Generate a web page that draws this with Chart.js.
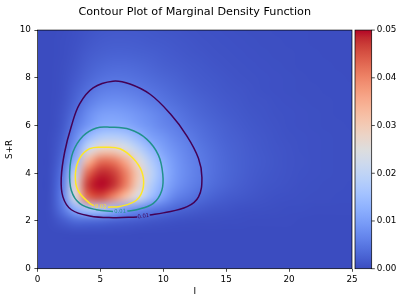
<!DOCTYPE html>
<html>
<head>
<meta charset="UTF-8">
<title>Contour Plot of Marginal Density Function</title>
<script src="https://cdn.jsdelivr.net/npm/chart.js"></script>
<style>
  body { margin: 0; background: #fff; }
  canvas { display: block; }
</style>
</head>
<body>
<canvas id="chart" width="405" height="304"></canvas>
<script>
const chartTitle = 'Contour Plot of Marginal Density Function';

// grid nodes of the density surface (I on x, S+R on y)
const xNodes = [0,1,2,3,4,5,6,7,8,9,10,11,12,13,14,15,16,17,18,19,20,21,22,23,24,25];
const yNodes = [0,0.5,1,1.5,2,2.5,3,3.5,4,4.5,5,5.5,6,6.5,7,7.5,8,8.5,9,9.5,10];

// density, one row per y node (bottom row first)
const density = [
  [0,0,0,0,0,0,0,0,0,0,0,0,0,0,0,0,0,0,0,0,0,0,0,0,0,0],
  [0,0,0,0,0,0,0,0,0,0,0,0,0,0,0,0,0,0,0,0,0,0,0,0,0,0],
  [0,0,0,0,0,0,0,0,0,0,0,0,0,0,0,0,0,0,0,0,0,0,0,0,0,0],
  [0,0,0,0.0001,0.0001,0.0001,0.0001,0.0001,0,0,0,0,0,0,0,0,0,0,0,0,0,0,0,0,0,0],
  [0,0.0001,0.0017,0.0035,0.0035,0.0032,0.0026,0.0021,0.0017,0.0012,0.0009,0.0006,0.0004,0.0003,0.0003,0.0002,0.0002,0.0001,0.0001,0.0001,0.0001,0,0,0,0,0],
  [0,0.0003,0.0048,0.0125,0.0170,0.0170,0.0138,0.0100,0.0077,0.0057,0.0043,0.0030,0.0022,0.0016,0.0011,0.0009,0.0006,0.0005,0.0004,0.0003,0.0002,0.0002,0.0001,0.0001,0.0001,0.0001],
  [0,0.0003,0.0061,0.0244,0.0430,0.0456,0.0400,0.0320,0.0235,0.0150,0.0100,0.0063,0.0048,0.0035,0.0025,0.0018,0.0014,0.0011,0.0008,0.0006,0.0005,0.0004,0.0003,0.0003,0.0002,0.0002],
  [0,0.0002,0.0057,0.0255,0.0471,0.0500,0.0481,0.0407,0.0285,0.0183,0.0122,0.0086,0.0064,0.0049,0.0036,0.0027,0.0020,0.0015,0.0011,0.0009,0.0007,0.0005,0.0004,0.0003,0.0003,0.0002],
  [0,0.0002,0.0048,0.0203,0.0430,0.0485,0.0472,0.0408,0.0299,0.0200,0.0133,0.0093,0.0070,0.0054,0.0040,0.0030,0.0023,0.0017,0.0013,0.0010,0.0008,0.0006,0.0005,0.0004,0.0003,0.0003],
  [0,0.0001,0.0036,0.0138,0.0334,0.0422,0.0416,0.0357,0.0259,0.0179,0.0124,0.0090,0.0068,0.0053,0.0040,0.0030,0.0023,0.0018,0.0014,0.0011,0.0008,0.0007,0.0005,0.0004,0.0003,0.0003],
  [0,0.0001,0.0026,0.0098,0.0215,0.0280,0.0285,0.0250,0.0195,0.0141,0.0103,0.0081,0.0063,0.0049,0.0037,0.0028,0.0022,0.0017,0.0013,0.0010,0.0008,0.0006,0.0005,0.0004,0.0003,0.0003],
  [0,0.0001,0.0019,0.0073,0.0140,0.0180,0.0188,0.0175,0.0140,0.0105,0.0087,0.0068,0.0055,0.0042,0.0033,0.0025,0.0020,0.0015,0.0012,0.0009,0.0007,0.0006,0.0005,0.0004,0.0003,0.0003],
  [0,0,0.0013,0.0054,0.0090,0.0118,0.0122,0.0116,0.0100,0.0084,0.0068,0.0057,0.0045,0.0036,0.0028,0.0022,0.0017,0.0013,0.0010,0.0008,0.0006,0.0005,0.0004,0.0003,0.0003,0.0002],
  [0,0,0.0010,0.0039,0.0075,0.0098,0.0102,0.0097,0.0086,0.0074,0.0060,0.0048,0.0037,0.0029,0.0023,0.0018,0.0014,0.0011,0.0009,0.0007,0.0006,0.0005,0.0004,0.0003,0.0002,0.0002],
  [0,0,0.0007,0.0028,0.0055,0.0074,0.0080,0.0077,0.0068,0.0057,0.0047,0.0038,0.0030,0.0024,0.0019,0.0015,0.0012,0.0009,0.0008,0.0006,0.0005,0.0004,0.0003,0.0003,0.0002,0.0002],
  [0,0,0.0005,0.0021,0.0040,0.0055,0.0060,0.0058,0.0052,0.0045,0.0037,0.0030,0.0024,0.0019,0.0016,0.0012,0.0010,0.0008,0.0006,0.0005,0.0004,0.0003,0.0003,0.0002,0.0002,0.0002],
  [0,0,0.0004,0.0015,0.0029,0.0040,0.0045,0.0044,0.0040,0.0035,0.0029,0.0024,0.0019,0.0016,0.0013,0.0010,0.0008,0.0007,0.0006,0.0005,0.0004,0.0003,0.0002,0.0002,0.0002,0.0001],
  [0,0,0.0003,0.0011,0.0022,0.0030,0.0034,0.0034,0.0031,0.0027,0.0022,0.0019,0.0016,0.0013,0.0010,0.0008,0.0007,0.0006,0.0005,0.0004,0.0003,0.0002,0.0002,0.0002,0.0001,0.0001],
  [0,0,0.0002,0.0008,0.0017,0.0022,0.0025,0.0025,0.0023,0.0021,0.0018,0.0015,0.0012,0.0010,0.0008,0.0007,0.0006,0.0005,0.0004,0.0003,0.0003,0.0002,0.0002,0.0001,0.0001,0.0001],
  [0,0,0.0002,0.0006,0.0012,0.0017,0.0019,0.0019,0.0018,0.0016,0.0014,0.0012,0.0010,0.0008,0.0007,0.0006,0.0005,0.0004,0.0003,0.0003,0.0002,0.0002,0.0001,0.0001,0.0001,0.0001],
  [0,0,0.0001,0.0005,0.0009,0.0013,0.0015,0.0015,0.0014,0.0013,0.0011,0.0010,0.0008,0.0007,0.0006,0.0005,0.0004,0.0003,0.0003,0.0002,0.0002,0.0002,0.0001,0.0001,0.0001,0.0001]
];

// contour lines (open where the inline label sits)
const outerContour = [
  {x:8.92,y:2.25},{x:10.0,y:2.34},{x:11.9,y:2.6},{x:12.8,y:3.01},{x:13.07,y:3.82},{x:12.8,y:4.62},
  {x:11.88,y:5.56},{x:10.54,y:6.5},{x:8.95,y:7.31},{x:7.35,y:7.74},{x:6.0,y:7.86},{x:4.42,y:7.58},
  {x:3.35,y:6.91},{x:2.69,y:5.97},{x:2.16,y:4.89},{x:1.89,y:3.82},{x:2.02,y:3.01},{x:2.69,y:2.47},
  {x:4.15,y:2.21},{x:6.02,y:2.14},{x:7.93,y:2.17}
];
const middleContour = [
  {x:7.14,y:2.42},{x:7.88,y:2.47},{x:9.21,y:2.74},{x:9.88,y:3.28},{x:9.96,y:3.95},{x:9.61,y:4.76},
  {x:8.68,y:5.43},{x:7.35,y:5.83},{x:5.75,y:5.93},{x:4.69,y:5.9},{x:3.62,y:5.56},{x:2.82,y:4.89},
  {x:2.56,y:4.08},{x:2.69,y:3.28},{x:3.35,y:2.74},{x:4.69,y:2.47},{x:6.0,y:2.40}
];
const innerContour = [
  {x:5.6,y:2.58},{x:6.55,y:2.61},{x:7.88,y:2.88},{x:8.41,y:3.42},{x:8.28,y:4.08},{x:7.61,y:4.62},
  {x:6.55,y:5.03},{x:5.22,y:5.09},{x:4.15,y:5.03},{x:3.35,y:4.62},{x:3.01,y:3.95},{x:3.22,y:3.28},
  {x:4.15,y:2.74},{x:4.49,y:2.64}
];
const contourLabels = [
  {text:'0.02', x:5.03, y:2.60, angle:4, color:'#fde725'},
  {text:'0.01', x:6.57, y:2.40, angle:-2, color:'#21918c'},
  {text:'0.01', x:8.42, y:2.20, angle:-8, color:'#440154'}
];

const xTicks = [0,5,10,15,20,25];
const yTicks = [0,2,4,6,8,10];
const cbarTicks = [0,0.01,0.02,0.03,0.04,0.05];
const vmax = 0.05;

// matplotlib coolwarm, 33 evenly spaced stops
const coolwarmStops = [
  [59,76,192],[68,90,204],[77,104,215],[87,117,225],[98,130,234],[108,142,241],[119,154,247],
  [130,165,251],[141,176,254],[152,185,255],[163,194,255],[174,201,253],[184,208,249],[194,213,244],
  [204,217,238],[213,219,230],[221,221,221],[229,216,209],[236,211,197],[241,204,184],[245,196,172],
  [247,187,160],[247,177,148],[247,166,137],[244,154,123],[241,141,112],[236,127,99],[229,112,88],
  [222,96,77],[213,80,66],[203,62,56],[192,40,47],[180,4,38]
];

function coolwarm(t) {
  t = Math.min(1, Math.max(0, t));
  const p = t * (coolwarmStops.length - 1);
  const i = Math.min(Math.floor(p), coolwarmStops.length - 2);
  const f = p - i;
  const a = coolwarmStops[i], b = coolwarmStops[i + 1];
  return a.map((c, k) => Math.round(c + (b[k] - c) * f));
}

Chart.defaults.font.family = "'DejaVu Sans', sans-serif";
Chart.defaults.color = '#000';

const tickGrid = {
  drawOnChartArea: false,
  drawTicks: true,
  tickLength: 3.1,
  tickWidth: 0.7,
  tickColor: '#000'
};

const heatmapPlugin = {
  id: 'heatmap',
  beforeDatasetsDraw(chart) {
    const {ctx, chartArea, scales} = chart;
    const nx = xNodes.length, ny = yNodes.length;
    const off = document.createElement('canvas');
    off.width = nx;
    off.height = ny;
    const octx = off.getContext('2d');
    const img = octx.createImageData(nx, ny);
    for (let j = 0; j < ny; j++) {
      const row = density[ny - 1 - j];
      for (let i = 0; i < nx; i++) {
        const c = coolwarm(row[i] / vmax);
        const k = (j * nx + i) * 4;
        img.data[k] = c[0];
        img.data[k + 1] = c[1];
        img.data[k + 2] = c[2];
        img.data[k + 3] = 255;
      }
    }
    octx.putImageData(img, 0, 0);

    const x0 = scales.x.getPixelForValue(xNodes[0]);
    const x1 = scales.x.getPixelForValue(xNodes[nx - 1]);
    const yTop = scales.y.getPixelForValue(yNodes[ny - 1]);
    const yBot = scales.y.getPixelForValue(yNodes[0]);
    ctx.save();
    ctx.beginPath();
    ctx.rect(chartArea.left, chartArea.top, chartArea.width, chartArea.height);
    ctx.clip();
    ctx.imageSmoothingEnabled = true;
    ctx.imageSmoothingQuality = 'high';
    ctx.drawImage(off, 0.5, 0.5, nx - 1, ny - 1, x0, yTop, x1 - x0, yBot - yTop);
    ctx.restore();
  },
  afterDatasetsDraw(chart) {
    const {ctx, chartArea, scales} = chart;

    // inline contour labels
    ctx.save();
    ctx.font = "5.3px 'DejaVu Sans'";
    ctx.textAlign = 'center';
    ctx.textBaseline = 'middle';
    contourLabels.forEach(l => {
      ctx.save();
      ctx.translate(scales.x.getPixelForValue(l.x), scales.y.getPixelForValue(l.y));
      ctx.rotate(l.angle * Math.PI / 180);
      ctx.fillStyle = l.color;
      ctx.fillText(l.text, 0, 0);
      ctx.restore();
    });
    ctx.restore();

    // frame
    ctx.save();
    ctx.strokeStyle = '#000';
    ctx.lineWidth = 0.7;
    ctx.strokeRect(chartArea.left, chartArea.top, chartArea.width, chartArea.height);

    // colour bar
    const cb = scales.yc;
    const cbLeft = chartArea.right + 3;
    const cbRight = chartArea.right + 19.7;
    const cbTop = cb.getPixelForValue(vmax);
    const cbBot = cb.getPixelForValue(0);
    const grad = ctx.createLinearGradient(0, cbBot, 0, cbTop);
    coolwarmStops.forEach((c, i) => {
      grad.addColorStop(i / (coolwarmStops.length - 1), `rgb(${c[0]},${c[1]},${c[2]})`);
    });
    ctx.fillStyle = grad;
    ctx.fillRect(cbLeft, cbTop, cbRight - cbLeft, cbBot - cbTop);
    ctx.strokeRect(cbLeft, cbTop, cbRight - cbLeft, cbBot - cbTop);
    ctx.beginPath();
    cbarTicks.forEach(v => {
      const py = cb.getPixelForValue(v);
      ctx.moveTo(cbRight, py);
      ctx.lineTo(cbRight + 3.1, py);
    });
    ctx.stroke();

    // title, centred over the plot area like matplotlib does
    ctx.fillStyle = '#000';
    ctx.font = "11.2px 'DejaVu Sans'";
    ctx.textAlign = 'center';
    ctx.textBaseline = 'alphabetic';
    ctx.fillText(chartTitle, (chartArea.left + chartArea.right) / 2, 14.8);
    ctx.restore();
  }
};

function contourSet(points, color) {
  return {
    data: points,
    showLine: true,
    borderColor: color,
    borderWidth: 1.5,
    pointRadius: 0,
    tension: 0.4,
    fill: false
  };
}

new Chart(document.getElementById('chart'), {
  type: 'scatter',
  data: {
    datasets: [
      contourSet(outerContour, '#440154'),
      contourSet(middleContour, '#21918c'),
      contourSet(innerContour, '#fde725')
    ]
  },
  options: {
    responsive: false,
    animation: false,
    devicePixelRatio: 1,
    events: [],
    layout: { padding: { top: 20, left: 0, right: 0, bottom: 0 }, autoPadding: false },
    plugins: {
      legend: { display: false },
      tooltip: { enabled: false },
      title: { display: false }
    },
    scales: {
      x: {
        type: 'linear',
        position: 'bottom',
        min: 0,
        max: 25,
        afterBuildTicks: s => { s.ticks = xTicks.map(v => ({ value: v })); },
        afterFit: s => { s.height = 35.3; },
        ticks: { padding: 2.2, font: { size: 8.8 }, color: '#000', maxRotation: 0, autoSkip: false },
        grid: tickGrid,
        border: { display: false },
        title: { display: true, text: 'I', font: { size: 8.8 }, color: '#000', padding: { top: 0, bottom: 6.7 } }
      },
      y: {
        type: 'linear',
        position: 'left',
        min: 0,
        max: 10,
        afterBuildTicks: s => { s.ticks = yTicks.map(v => ({ value: v })); },
        afterFit: s => { s.width = 37.5; },
        ticks: { padding: 3.5, font: { size: 8.8 }, color: '#000', autoSkip: false },
        grid: tickGrid,
        border: { display: false },
        title: { display: true, text: 'S+R', font: { size: 8.8 }, color: '#000', padding: { top: 4.7, bottom: 0 } }
      },
      yc: {
        type: 'linear',
        position: 'right',
        min: 0,
        max: vmax,
        afterBuildTicks: s => { s.ticks = cbarTicks.map(v => ({ value: v })); },
        afterFit: s => { s.width = 53; },
        ticks: { padding: 24.8, font: { size: 8.8 }, color: '#000', autoSkip: false, callback: v => v.toFixed(2) },
        grid: { display: false, drawTicks: false },
        border: { display: false }
      }
    }
  },
  plugins: [heatmapPlugin]
});
</script>
</body>
</html>
